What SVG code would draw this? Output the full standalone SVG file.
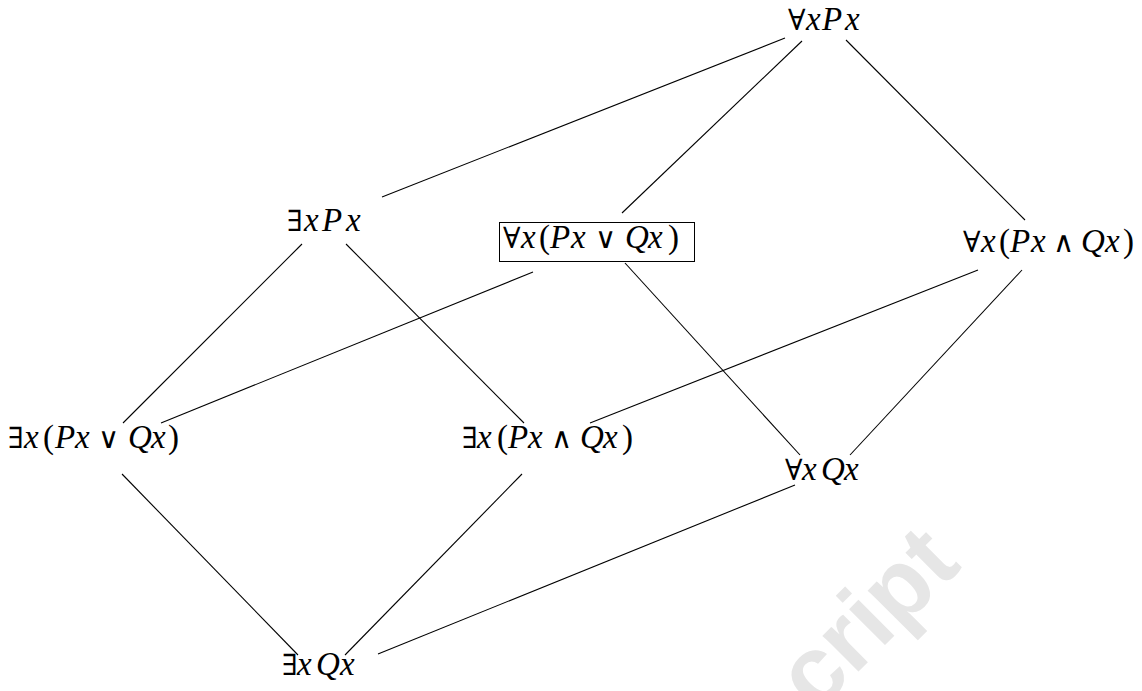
<svg xmlns="http://www.w3.org/2000/svg" width="1142" height="691" viewBox="0 0 1142 691">
<style>
.lbl{font-family:"Liberation Serif","DejaVu Serif",serif;font-size:33px;fill:#000}
.i{font-style:italic}
.q{font-family:"DejaVu Serif","DejaVu Sans",serif;font-size:29px}
.op{font-family:"DejaVu Sans",sans-serif;font-size:29px}
.edge{stroke:#000;stroke-width:1.1;fill:none}
.wm{font-family:"Liberation Sans",Arial,sans-serif;font-weight:bold;font-size:96px;fill:#e6e6e6}
</style>
<rect width="1142" height="691" fill="#fff"/>
<text class="wm" transform="translate(816,714) rotate(-45)">cript</text>
<g id="connectors">
<line class="edge" x1="785" y1="38" x2="382" y2="197"/>
<line class="edge" x1="802" y1="41" x2="622" y2="213"/>
<line class="edge" x1="846" y1="40" x2="1025" y2="220"/>
<line class="edge" x1="302" y1="244" x2="123" y2="423"/>
<line class="edge" x1="346" y1="244" x2="524" y2="423"/>
<line class="edge" x1="533" y1="272" x2="161" y2="423"/>
<line class="edge" x1="625" y1="263" x2="800" y2="455"/>
<line class="edge" x1="978" y1="270" x2="590" y2="423"/>
<line class="edge" x1="1022" y1="270" x2="850" y2="455"/>
<line class="edge" x1="122" y1="474" x2="298" y2="655"/>
<line class="edge" x1="522" y1="474" x2="345" y2="655"/>
<line class="edge" x1="795" y1="485" x2="378" y2="654"/>
</g>
<g id="n-forall-Px"><text class="lbl" y="30"><tspan class="q" x="788">∀</tspan><tspan class="i" x="806 822 845">xPx</tspan></text></g>
<g id="n-exists-Px"><text class="lbl" y="231"><tspan class="q" x="287">∃</tspan><tspan class="i" x="304 322 346">xPx</tspan></text></g>
<g id="n-forall-PorQ"><rect x="499.5" y="222.5" width="195" height="39" fill="none" stroke="#000" stroke-width="1"/><text class="lbl" y="248"><tspan class="q" x="503">∀</tspan><tspan class="i" x="521">x</tspan><tspan x="539">(</tspan><tspan class="i" x="550 571">Px</tspan><tspan class="op" x="595">∨</tspan><tspan class="i" x="625 648">Qx</tspan><tspan x="668">)</tspan></text></g>
<g id="n-forall-PandQ"><text class="lbl" y="252"><tspan class="q" x="963">∀</tspan><tspan class="i" x="981">x</tspan><tspan x="999">(</tspan><tspan class="i" x="1010 1031">Px</tspan><tspan class="op" x="1053">∧</tspan><tspan class="i" x="1081 1105">Qx</tspan><tspan x="1123">)</tspan></text></g>
<g id="n-exists-PorQ"><text class="lbl" y="448"><tspan class="q" x="8">∃</tspan><tspan class="i" x="24">x</tspan><tspan x="43">(</tspan><tspan class="i" x="55 75">Px</tspan><tspan class="op" x="98">∨</tspan><tspan class="i" x="128 151">Qx</tspan><tspan x="168">)</tspan></text></g>
<g id="n-exists-PandQ"><text class="lbl" y="448"><tspan class="q" x="462">∃</tspan><tspan class="i" x="477">x</tspan><tspan x="497">(</tspan><tspan class="i" x="508 528">Px</tspan><tspan class="op" x="551">∧</tspan><tspan class="i" x="580 603">Qx</tspan><tspan x="622">)</tspan></text></g>
<g id="n-forall-Qx"><text class="lbl" y="480"><tspan class="q" x="785">∀</tspan><tspan class="i" x="802 821 844">xQx</tspan></text></g>
<g id="n-exists-Qx"><text class="lbl" y="675"><tspan class="q" x="282">∃</tspan><tspan class="i" x="297 316 340">xQx</tspan></text></g>
</svg>
